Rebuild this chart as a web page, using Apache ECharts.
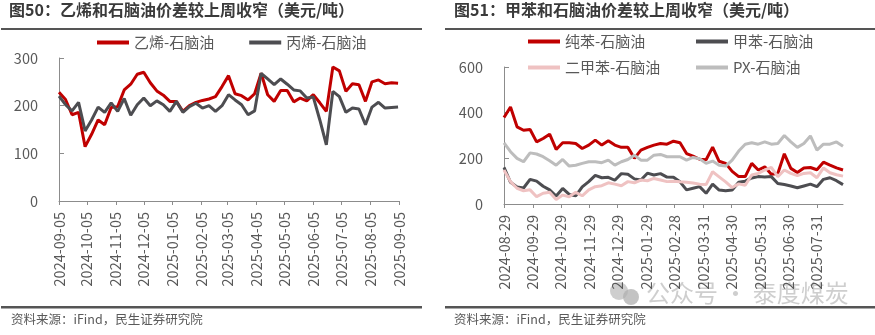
<!DOCTYPE html>
<html><head><meta charset="utf-8">
<script src="https://cdn.jsdelivr.net/npm/echarts@6/dist/echarts.min.js"></script>
<style>html,body{margin:0;padding:0;background:#fff;}#c{width:875px;height:335px;}</style>
</head><body><div id="c"></div>
<script>
// ---------- data ----------
const leftDates = ['2024-09-05','2024-09-12','2024-09-19','2024-09-26','2024-10-03','2024-10-10','2024-10-17','2024-10-24','2024-10-31','2024-11-07','2024-11-14','2024-11-21','2024-11-28','2024-12-05','2024-12-12','2024-12-19','2024-12-26','2025-01-02','2025-01-09','2025-01-16','2025-01-23','2025-01-30','2025-02-06','2025-02-13','2025-02-20','2025-02-27','2025-03-06','2025-03-13','2025-03-20','2025-03-27','2025-04-03','2025-04-10','2025-04-17','2025-04-24','2025-05-01','2025-05-08','2025-05-15','2025-05-22','2025-05-29','2025-06-05','2025-06-12','2025-06-19','2025-06-26','2025-07-03','2025-07-10','2025-07-17','2025-07-24','2025-07-31','2025-08-07','2025-08-14','2025-08-21','2025-08-28','2025-09-04'];
const ethylene = [228,213,181,186,114,140,170,160,196,198,233,245,266,270,248,231,222,209,209,188,200,207,211,214,219,240,263,225,221,212,225,268,223,209,232,232,208,216,210,223,206,188,281,273,230,246,244,209,250,254,246,248,247];
const propylene = [220,202,189,207,147,170,197,186,206,188,215,180,202,216,200,210,202,188,209,186,198,205,195,200,188,200,223,212,202,181,189,268,256,244,256,245,233,231,216,218,170,118,230,219,186,195,193,160,197,207,195,196,197];
const leftTicks = ['2024-09-05','2024-10-05','2024-11-05','2024-12-05','2025-01-05','2025-02-05','2025-03-05','2025-04-05','2025-05-05','2025-06-05','2025-07-05','2025-08-05','2025-09-05'];
const leftYTicks = [0,100,200,300];

const rightDates = ['2024-08-29','2024-09-05','2024-09-12','2024-09-19','2024-09-26','2024-10-03','2024-10-10','2024-10-17','2024-10-24','2024-10-31','2024-11-07','2024-11-14','2024-11-21','2024-11-28','2024-12-05','2024-12-12','2024-12-19','2024-12-26','2025-01-02','2025-01-09','2025-01-16','2025-01-23','2025-01-30','2025-02-06','2025-02-13','2025-02-20','2025-02-27','2025-03-06','2025-03-13','2025-03-20','2025-03-27','2025-04-03','2025-04-10','2025-04-17','2025-04-24','2025-05-01','2025-05-08','2025-05-15','2025-05-22','2025-05-29','2025-06-05','2025-06-12','2025-06-19','2025-06-26','2025-07-03','2025-07-10','2025-07-17','2025-07-24','2025-07-31','2025-08-07','2025-08-14','2025-08-21','2025-08-28'];
const benzene = [379,425,338,323,326,272,287,306,239,268,268,265,243,258,280,258,277,258,248,248,200,236,248,258,265,262,275,268,221,210,196,194,249,187,178,143,120,120,178,149,163,130,134,220,156,138,158,160,150,183,170,158,149];
const toluene = [160,95,75,70,108,100,78,62,35,68,42,36,75,98,125,115,117,104,133,130,110,105,135,127,133,118,117,97,62,69,76,47,87,61,58,61,95,100,114,120,118,120,90,85,79,71,79,87,76,108,115,102,85];
const xylene = [149,98,69,58,62,32,47,51,20,39,32,51,36,62,76,80,93,87,80,98,93,105,102,112,105,98,100,97,95,92,87,85,141,119,97,72,88,82,127,134,149,160,120,149,134,124,134,137,115,158,137,128,122];
const px = [268,229,200,185,224,219,207,189,170,195,166,170,178,185,185,181,192,170,185,195,214,192,192,214,217,207,207,207,192,204,198,178,188,170,166,192,232,262,268,262,272,262,265,300,272,248,265,298,236,262,262,272,253];
const rightTicks = ['2024-08-29','2024-09-29','2024-10-29','2024-11-29','2024-12-29','2025-01-29','2025-02-28','2025-03-31','2025-04-30','2025-05-31','2025-06-30','2025-07-31'];
const rightYTicks = [0,200,400,600];

// ---------- helpers ----------
const toTs = s => { const p = s.split('-').map(Number); return Date.UTC(p[0], p[1]-1, p[2]); };
const pad = n => (n < 10 ? '0' : '') + n;
const fmt = v => { const d = new Date(v); return d.getUTCFullYear() + '-' + pad(d.getUTCMonth()+1) + '-' + pad(d.getUTCDate()); };
const zip = (dates, vals) => dates.map((d, i) => [toTs(d), vals[i]]);

const FONT = '"Noto Sans CJK SC","Noto Sans",sans-serif';
const AXIS_COLOR = '#8c8c8c';
const LABEL_COLOR = '#595959';
const RED = '#C00000', DARK = '#4d4d51', PINK = '#efc2c2', LGRAY = '#bdbdbd';

function xAxisCfg(gi, ticks, min, max) {
  const tv = ticks.map(toTs);
  return {
    type: 'value', gridIndex: gi, min: toTs(min), max: toTs(max), scale: true,
    axisLine: { show: true, onZero: false, lineStyle: { color: AXIS_COLOR, width: 1 } },
    axisTick: { show: true, customValues: tv, length: 4, inside: false, lineStyle: { color: AXIS_COLOR } },
    axisLabel: { customValues: tv, rotate: 90, margin: 11, fontSize: 14.5, color: LABEL_COLOR, fontFamily: FONT,
      formatter: v => fmt(v), hideOverlap: false, showMinLabel: true, showMaxLabel: true },
    splitLine: { show: false }
  };
}
function yAxisCfg(gi, ticks) {
  return {
    type: 'value', gridIndex: gi, min: ticks[0], max: ticks[ticks.length-1], interval: ticks[1]-ticks[0],
    axisLine: { show: true, lineStyle: { color: AXIS_COLOR, width: 1 } },
    axisTick: { show: true, inside: true, length: 5, lineStyle: { color: AXIS_COLOR } },
    axisLabel: { margin: 21, fontSize: 14.5, color: LABEL_COLOR, fontFamily: FONT },
    splitLine: { show: false }
  };
}
function lineSeries(name, xi, data, color) {
  return { name, type: 'line', xAxisIndex: xi, yAxisIndex: xi, data, showSymbol: false, symbol: 'none',
    lineStyle: { color, width: 3 }, itemStyle: { color }, animation: false };
}
function legendCfg(names, left, top, gap) {
  return { data: names, left, top, itemWidth: 32, itemHeight: 4, itemGap: gap || 35, icon: 'rect',
    textStyle: { fontSize: 15, color: LABEL_COLOR, fontFamily: FONT } };
}

const chart = echarts.init(document.getElementById('c'), null, { renderer: 'canvas' });
chart.setOption({
  animation: false,
  backgroundColor: '#fff',
  grid: [
    { left: 59, top: 58, width: 340, height: 143, outerBoundsMode: 'none', containLabel: false },
    { left: 504, top: 67, width: 339, height: 137, outerBoundsMode: 'none', containLabel: false }
  ],
  xAxis: [ xAxisCfg(0, leftTicks, '2024-09-05', '2025-09-05'), xAxisCfg(1, rightTicks, '2024-08-29', '2025-08-28') ],
  yAxis: [ yAxisCfg(0, leftYTicks), yAxisCfg(1, rightYTicks) ],
  legend: [
    legendCfg(['乙烯-石脑油','丙烯-石脑油'], 92, 30, 35),
    legendCfg(['纯苯-石脑油'], 523, 29),
    legendCfg(['甲苯-石脑油'], 691, 29),
    legendCfg(['二甲苯-石脑油'], 523, 55),
    legendCfg(['PX-石脑油'], 691, 55)
  ],
  series: [
    lineSeries('乙烯-石脑油', 0, zip(leftDates, ethylene), RED),
    lineSeries('丙烯-石脑油', 0, zip(leftDates, propylene), DARK),
    lineSeries('纯苯-石脑油', 1, zip(rightDates, benzene), RED),
    lineSeries('甲苯-石脑油', 1, zip(rightDates, toluene), DARK),
    lineSeries('二甲苯-石脑油', 1, zip(rightDates, xylene), PINK),
    lineSeries('PX-石脑油', 1, zip(rightDates, px), LGRAY)
  ],
  graphic: [
    { type: 'text', left: 9, top: 2, style: { text: '图50：乙烯和石脑油价差较上周收窄（美元/吨）', font: 'bold 16px ' + FONT, fill: '#3a3a3a' } },
    { type: 'text', left: 454, top: 2, style: { text: '图51：甲苯和石脑油价差较上周收窄（美元/吨）', font: 'bold 16px ' + FONT, fill: '#3a3a3a' } },
    { type: 'rect', shape: { x: 1, y: 28, width: 421, height: 2 }, style: { fill: '#555' } },
    { type: 'rect', shape: { x: 445, y: 28, width: 430, height: 2 }, style: { fill: '#555' } },
    { type: 'text', left: 646, top: 281, style: { text: '公众号 · 泰度煤炭', font: '24px ' + FONT, fill: 'rgba(190,190,190,0.75)' } },
    { type: 'circle', shape: { cx: 619, cy: 291, r: 9 }, style: { fill: 'rgba(190,190,190,0.75)' } },
    { type: 'circle', shape: { cx: 631, cy: 297, r: 8 }, style: { fill: 'rgba(175,175,175,0.75)' } },
    { type: 'rect', shape: { x: 1, y: 306, width: 421, height: 2.5 }, style: { fill: '#555' } },
    { type: 'rect', shape: { x: 445, y: 306, width: 430, height: 2.5 }, style: { fill: '#555' } },
    { type: 'text', left: 11, top: 313, style: { text: '资料来源：iFind，民生证券研究院', font: '12.5px ' + FONT, fill: LABEL_COLOR } },
    { type: 'text', left: 454, top: 313, style: { text: '资料来源：iFind，民生证券研究院', font: '12.5px ' + FONT, fill: LABEL_COLOR } }
  ]
});
</script></body></html>
